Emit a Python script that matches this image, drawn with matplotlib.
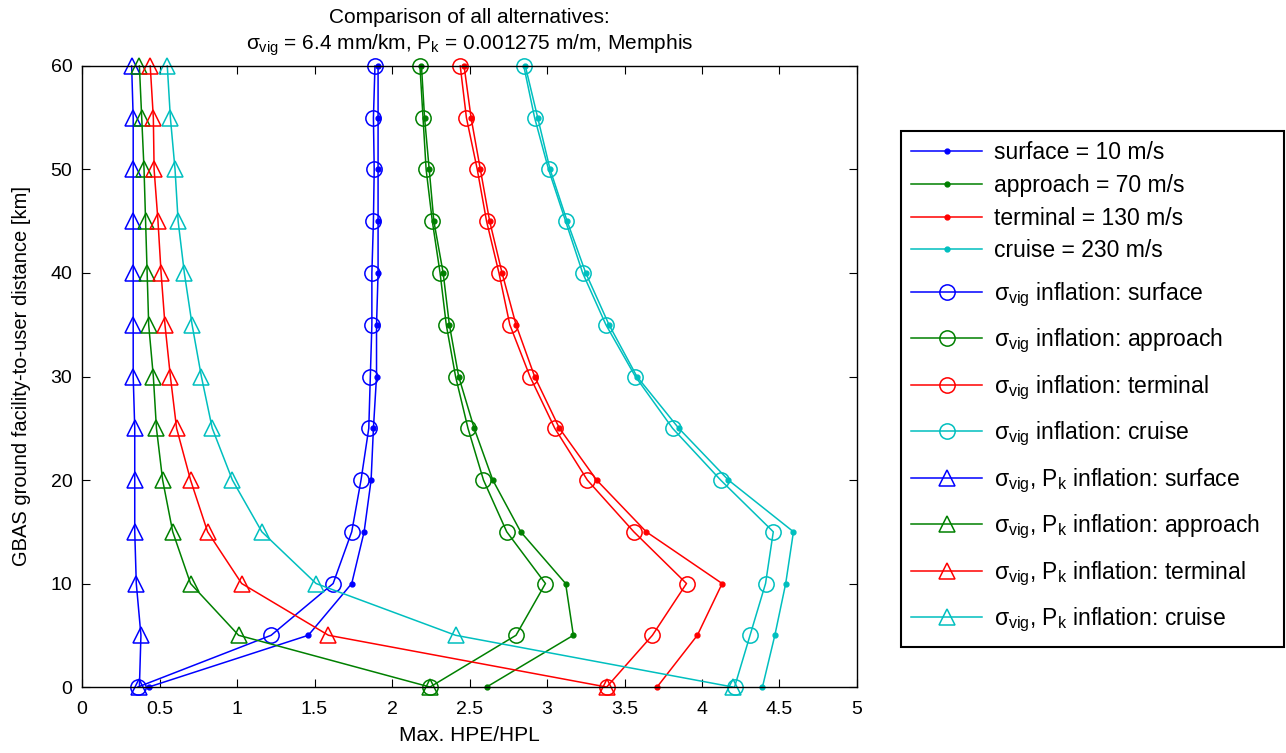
import matplotlib
matplotlib.use("Agg")
import matplotlib.pyplot as plt
from matplotlib.patches import Rectangle

plt.rcParams['font.family'] = ['Liberation Sans', 'DejaVu Sans']
plt.rcParams['mathtext.fontset'] = 'custom'
plt.rcParams['mathtext.rm'] = 'Liberation Sans'
plt.rcParams['mathtext.it'] = 'Liberation Sans'

dist = [0, 5, 10, 15, 20, 25, 30, 35, 40, 45, 50, 55, 60]

# no inflation
surface = [0.43, 1.46, 1.74, 1.82, 1.865, 1.88, 1.90, 1.90, 1.91, 1.91, 1.91, 1.91, 1.91]
approach = [2.61, 3.17, 3.12, 2.83, 2.65, 2.53, 2.43, 2.37, 2.33, 2.27, 2.24, 2.21, 2.19]
terminal = [3.71, 3.97, 4.13, 3.64, 3.32, 3.08, 2.92, 2.80, 2.71, 2.63, 2.57, 2.51, 2.465]
cruise = [4.39, 4.47, 4.54, 4.59, 4.17, 3.85, 3.58, 3.40, 3.25, 3.13, 3.02, 2.94, 2.86]

# sigma_vig inflation
sig_surface = [0.36, 1.22, 1.62, 1.74, 1.80, 1.85, 1.86, 1.87, 1.87, 1.88, 1.885, 1.88, 1.89]
sig_approach = [2.245, 2.80, 2.99, 2.74, 2.59, 2.49, 2.41, 2.35, 2.31, 2.26, 2.22, 2.20, 2.18]
sig_terminal = [3.385, 3.68, 3.90, 3.56, 3.26, 3.05, 2.89, 2.76, 2.69, 2.61, 2.55, 2.48, 2.44]
sig_cruise = [4.21, 4.31, 4.41, 4.46, 4.12, 3.81, 3.57, 3.38, 3.23, 3.12, 3.01, 2.92, 2.85]

# sigma_vig and P_k inflation
pk_surface = [0.37, 0.38, 0.35, 0.34, 0.34, 0.34, 0.33, 0.33, 0.33, 0.33, 0.33, 0.33, 0.32]
pk_approach = [2.245, 1.01, 0.70, 0.585, 0.52, 0.48, 0.46, 0.43, 0.42, 0.41, 0.40, 0.385, 0.37]
pk_terminal = [3.385, 1.59, 1.03, 0.81, 0.70, 0.61, 0.57, 0.535, 0.51, 0.49, 0.465, 0.46, 0.44]
pk_cruise = [4.20, 2.41, 1.51, 1.16, 0.97, 0.84, 0.77, 0.71, 0.66, 0.62, 0.60, 0.57, 0.55]

names = ['surface', 'approach', 'terminal', 'cruise']
speeds = [10, 70, 130, 230]
colors = ['#0000ff', '#008000', '#ff0000', '#00bfbf']

W, H = 1286, 753
fig = plt.figure(figsize=(W / 100, H / 100), dpi=100)
ax = fig.add_axes([0.0638, 0.0876, 0.6026, 0.8248])

plain = []
for vals, name, sp, c in zip([surface, approach, terminal, cruise], names, speeds, colors):
    h, = ax.plot(vals, dist, '-', marker='.', color=c, ms=7, lw=1.1, clip_on=False,
                 label=f'{name} = {sp} m/s')
    plain.append(h)
inflated = []
for vals, name, c in zip([sig_surface, sig_approach, sig_terminal, sig_cruise], names, colors):
    h, = ax.plot(vals, dist, '-', marker='o', mfc='none', mec=c, color=c, ms=11, mew=1.1,
                 lw=1.1, clip_on=False, label=r'$\sigma_{vig}$ inflation: ' + name)
    inflated.append(h)
for vals, name, c in zip([pk_surface, pk_approach, pk_terminal, pk_cruise], names, colors):
    h, = ax.plot(vals, dist, '-', marker='^', mfc='none', mec=c, color=c, ms=12, mew=1.1,
                 lw=1.1, clip_on=False, label=r'$\sigma_{vig}$, P$_k$ inflation: ' + name)
    inflated.append(h)

ax.set_xlim(0, 5)
ax.set_ylim(0, 60)
ax.set_xticks([0, 0.5, 1, 1.5, 2, 2.5, 3, 3.5, 4, 4.5, 5])
ax.set_xticklabels(['0', '0.5', '1', '1.5', '2', '2.5', '3', '3.5', '4', '4.5', '5'])
ax.set_yticks(range(0, 61, 10))
ax.tick_params(direction='in', length=6, labelsize=14, top=True, right=True)
ax.tick_params(axis='x', pad=10)
ax.tick_params(axis='y', pad=7)
for s in ax.spines.values():
    s.set_linewidth(1.0)
ax.set_xlabel('Max. HPE/HPL', fontsize=15, labelpad=6)
ax.set_ylabel('GBAS ground facility-to-user distance [km]', fontsize=14.5, labelpad=14)
ax.set_title('Comparison of all alternatives:\n'
             r'$\sigma_{vig}$ = 6.4 mm/km, P$_k$ = 0.001275 m/m, Memphis',
             fontsize=15, pad=12, linespacing=1.3)

# legend: one frame, two blocks with different row spacing
common = dict(loc='upper left', borderaxespad=0, fontsize=16.5, frameon=False,
              handlelength=3.1, handletextpad=0.5)
fig.legend(handles=plain, bbox_to_anchor=(901 / W, 1 - 131 / H),
           labelspacing=0.42, borderpad=0.45, **common)
fig.legend(handles=inflated, bbox_to_anchor=(901 / W, 1 - 270 / H),
           labelspacing=0.79, borderpad=0.45, **common)
fig.patches.append(Rectangle((901 / W, 1 - 647 / H), (1284 - 901) / W, (647 - 131) / H,
                             transform=fig.transFigure, fill=False, edgecolor='black',
                             linewidth=1.5))

fig.savefig('out.png', dpi=100)
